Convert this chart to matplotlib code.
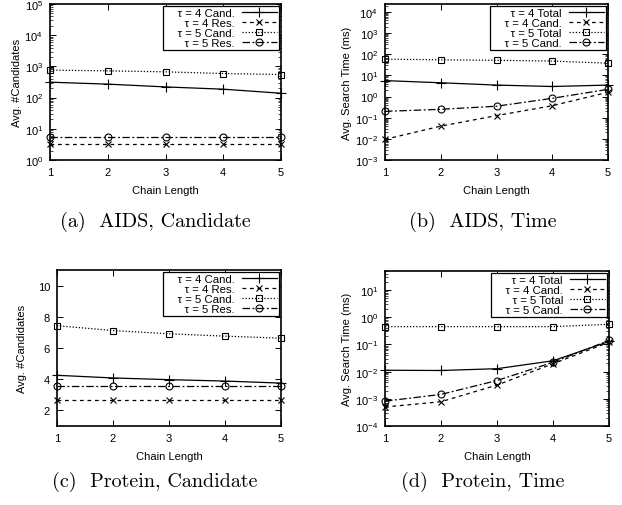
import matplotlib
matplotlib.use("Agg")
import matplotlib.pyplot as plt
import numpy as np
from matplotlib.ticker import LogLocator, NullFormatter

plt.rcParams['font.family'] = ['Liberation Sans', 'DejaVu Sans']
plt.rcParams['mathtext.default'] = 'regular'

chain = [1, 2, 3, 4, 5]

# (a) AIDS, Candidate
a_t4_cand = [312, 270, 220, 186, 138]
a_t4_res = [3.2, 3.2, 3.2, 3.2, 3.2]
a_t5_cand = [760, 720, 670, 590, 550]
a_t5_res = [5.3, 5.3, 5.3, 5.3, 5.3]
a_labels = ["τ = 4 Cand.", "τ = 4 Res.", "τ = 5 Cand.", "τ = 5 Res."]

# (b) AIDS, Time
b_t4_total = [5.7, 4.5, 3.5, 3.0, 3.5]
b_t4_cand = [0.0095, 0.04, 0.126, 0.37, 1.6]
b_t5_total = [59, 55, 52, 48, 38]
b_t5_cand = [0.2, 0.25, 0.35, 0.83, 2.2]
b_labels = ["τ = 4 Total", "τ = 4 Cand.", "τ = 5 Total", "τ = 5 Cand."]

# (c) Protein, Candidate
c_t4_cand = [4.25, 4.08, 3.97, 3.88, 3.75]
c_t4_res = [2.65, 2.65, 2.65, 2.65, 2.65]
c_t5_cand = [7.43, 7.12, 6.91, 6.76, 6.63]
c_t5_res = [3.54, 3.54, 3.54, 3.54, 3.54]

# (d) Protein, Time
d_t4_total = [0.0112, 0.011, 0.0128, 0.025, 0.128]
d_t4_cand = [0.0005, 0.00078, 0.0032, 0.0195, 0.12]
d_t5_total = [0.45, 0.45, 0.45, 0.45, 0.55]
d_t5_cand = [0.00082, 0.00145, 0.0047, 0.022, 0.14]

captions = ["(a)  AIDS, Candidate", "(b)  AIDS, Time",
            "(c)  Protein, Candidate", "(d)  Protein, Time"]

styles = [
    dict(ls='-', marker='+', ms=6.5),
    dict(ls=(0, (3, 3)), marker='x', ms=5),
    dict(ls=(0, (1, 1.5)), marker='s', ms=5, mfc='none'),
    dict(ls=(0, (6, 2, 1.5, 2)), marker='o', ms=5, mfc='none'),
]

W, H = 622, 506
fig = plt.figure(figsize=(W / 100, H / 100), dpi=100)

def box(l, t, r, b):
    return [l / W, 1 - b / H, (r - l) / W, (b - t) / H]

axes = [fig.add_axes(box(50, 5, 281, 161)),
        fig.add_axes(box(385, 5, 608, 161)),
        fig.add_axes(box(57, 271, 281, 427)),
        fig.add_axes(box(385, 272, 609, 427))]

series = [
    ([a_t4_cand, a_t4_res, a_t5_cand, a_t5_res], a_labels),
    ([b_t4_total, b_t4_cand, b_t5_total, b_t5_cand], b_labels),
    ([c_t4_cand, c_t4_res, c_t5_cand, c_t5_res], a_labels),
    ([d_t4_total, d_t4_cand, d_t5_total, d_t5_cand], b_labels),
]

for ax, (ys, labels) in zip(axes, series):
    for y, lab, st in zip(ys, labels, styles):
        ax.plot(chain, y, color='black', lw=0.9, mec='black', mew=0.8,
                label="    " + lab, clip_on=False, zorder=3, **st)
    ax.set_xlim(1, 5)
    ax.set_xticks(chain)
    ax.set_xlabel("Chain Length", fontsize=8, labelpad=6)
    ax.tick_params(direction='in', top=True, right=True, labelsize=8,
                   length=4, width=0.7, pad=5)
    ax.tick_params(which='minor', direction='in', top=False, right=True, length=2, width=0.5)
    for s in ax.spines.values():
        s.set_linewidth(1.2)
        s.set_zorder(4)
    leg = ax.legend(loc='upper right', fontsize=8.2, markerfirst=False,
                    numpoints=1, handlelength=3.1, handletextpad=0.6,
                    labelspacing=0.0, borderpad=0.2, borderaxespad=0.15,
                    fancybox=False, framealpha=1, edgecolor='black')
    leg.get_frame().set_linewidth(0.9)
    leg.set_zorder(5)

axes[0].set_yscale('log')
axes[0].set_ylim(1, 1e5)
axes[0].set_ylabel("Avg. #Candidates", fontsize=8, labelpad=2)

axes[1].set_yscale('log')
axes[1].set_ylim(1e-3, 10 ** 4.38)
axes[1].set_ylabel("Avg. Search Time (ms)", fontsize=8, labelpad=2)

axes[2].set_ylim(1, 11)
axes[2].set_yticks([2, 4, 6, 8, 10])
axes[2].set_ylabel("Avg. #Candidates", fontsize=8, labelpad=8)

axes[3].set_yscale('log')
axes[3].set_ylim(1e-4, 50)
axes[3].set_ylabel("Avg. Search Time (ms)", fontsize=8, labelpad=2)

for ax in (axes[0], axes[1], axes[3]):
    ax.yaxis.set_major_locator(LogLocator(base=10, numticks=20))
    ax.yaxis.set_minor_locator(LogLocator(base=10, subs=np.arange(2, 10), numticks=20))
    ax.yaxis.set_minor_formatter(NullFormatter())

cap_pos = [(155, 222), (483, 222), (155, 482), (483, 482)]
for (x, y), txt in zip(cap_pos, captions):
    fig.text(x / W, 1 - y / H, txt, ha='center', va='center',
             fontsize=14.5, family=['cmr10', 'DejaVu Serif'])

fig.savefig("out.png", dpi=100)
